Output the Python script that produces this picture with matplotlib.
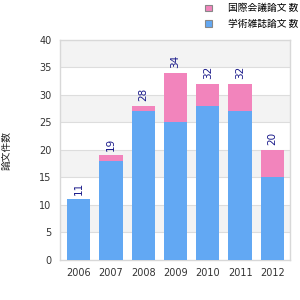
import matplotlib.pyplot as plt
from matplotlib.patches import Patch

plt.rcParams['font.family'] = ['DejaVu Sans', 'Noto Sans CJK JP']

years = ['2006', '2007', '2008', '2009', '2010', '2011', '2012']
blue_vals = [11, 18, 27, 25, 28, 27, 15]
pink_vals = [0, 1, 1, 9, 4, 5, 5]
blue_label = '学術雑誌論文 数'
pink_label = '国際会議論文 数'
y_label = '論文件数'

blue = '#62a8f3'
pink = '#f284bc'

fig = plt.figure(figsize=(3, 3), dpi=100)
ax = fig.add_axes([0.2, 0.135, 0.767, 0.732])

x = range(len(years))
ax.bar(x, blue_vals, width=0.72, color=blue, zorder=3)
ax.bar(x, pink_vals, width=0.72, bottom=blue_vals, color=pink, zorder=3)

totals = [b + p for b, p in zip(blue_vals, pink_vals)]
for i, t in enumerate(totals):
    ax.text(i, t + 0.8, str(t), rotation=90, ha='center', va='bottom',
            fontsize=7.5, color='#1a1a8a', zorder=4)

# alternating bands
for lo in range(5, 40, 10):
    ax.axhspan(lo, lo + 5, color='#f3f3f3', zorder=0, lw=0)
for y in range(5, 40, 5):
    ax.axhline(y, color='#dddddd', lw=0.8, zorder=1)

ax.set_ylim(0, 40)
ax.set_xlim(-0.58, len(years) - 0.45)
ax.set_yticks(range(0, 41, 5))
ax.set_xticks(list(x))
ax.set_xticklabels(years)
ax.tick_params(length=0, labelsize=7, colors='#333333', pad=6)
for s in ax.spines.values():
    s.set_color('#d8d8d8')
    s.set_linewidth(1)

fig.text(0.005, 0.5, y_label, rotation=90, ha='left', va='center',
         fontsize=7, color='#222222', family=['Noto Sans CJK JP', 'DejaVu Sans'])

handles = [Patch(facecolor=pink, edgecolor='#888888', lw=0.8),
           Patch(facecolor=blue, edgecolor='#888888', lw=0.8)]
leg = fig.legend(handles, [pink_label, blue_label], loc='upper left',
                 bbox_to_anchor=(0.655, 1.018), frameon=False,
                 prop={'family': ['Noto Sans CJK JP', 'DejaVu Sans'], 'size': 7},
                 handlelength=0.7, handleheight=0.7, handletextpad=1.6,
                 labelspacing=0.55)

fig.savefig('out.png', dpi=100)
